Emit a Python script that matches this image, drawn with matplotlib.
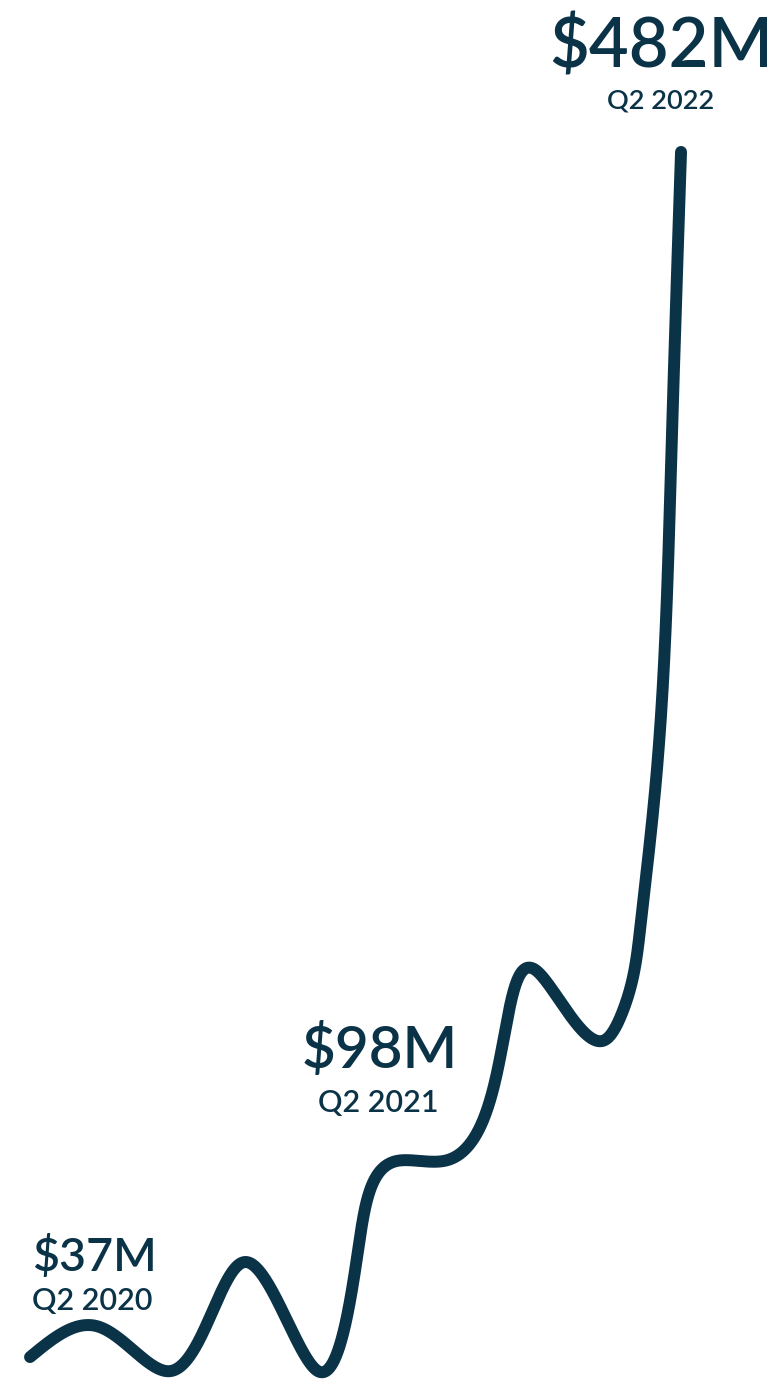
import numpy as np
import matplotlib
matplotlib.use("Agg")
import matplotlib.pyplot as plt

# quarter index (0 = Q2 2020 ... 8 = Q2 2022) and value in $M
quarter = [0.0, 0.823, 1.720, 2.642, 3.539, 4.031, 4.522, 5.100, 5.530, 6.230,
           7.066, 7.275, 7.496, 7.693, 7.877, 8.0]
value_m = [37.0, 48.4, 31.8, 72.1, 31.8, 76.3, 109.5, 109.5, 121.9, 179.5,
           154.1, 164.0, 194.7, 250.1, 366.0, 482.0]

labels = ["$37M", "$98M", "$482M"]
periods = ["Q2 2020", "Q2 2021", "Q2 2022"]

NAVY = "#0b3347"


def natural_spline(t, y, ts):
    n = len(t)
    h = np.diff(t)
    A = np.zeros((n, n))
    r = np.zeros(n)
    A[0, 0] = A[-1, -1] = 1.0
    for i in range(1, n - 1):
        A[i, i - 1] = h[i - 1]
        A[i, i] = 2 * (h[i - 1] + h[i])
        A[i, i + 1] = h[i]
        r[i] = 6 * ((y[i + 1] - y[i]) / h[i] - (y[i] - y[i - 1]) / h[i - 1])
    M = np.linalg.solve(A, r)
    idx = np.clip(np.searchsorted(t, ts) - 1, 0, n - 2)
    hh = h[idx]
    a = (t[idx + 1] - ts) / hh
    b = (ts - t[idx]) / hh
    return (a * y[idx] + b * y[idx + 1]
            + ((a**3 - a) * M[idx] + (b**3 - b) * M[idx + 1]) * hh**2 / 6)


def main():
    fig = plt.figure(figsize=(7.79, 13.79), dpi=100)
    ax = fig.add_axes([0, 0, 1, 1])
    ax.set_xlim(-0.369, 9.204)
    ax.set_ylim(28.9, 538.1)
    ax.axis("off")

    # smooth the line in screen space so the steep part stays round
    pts = ax.transData.transform(np.column_stack([quarter, value_m]))
    seg = np.hypot(*np.diff(pts, axis=0).T)
    t = np.concatenate([[0], np.cumsum(seg)])
    ts = np.linspace(0, t[-1], 4000)
    curve = np.column_stack([natural_spline(t, pts[:, 0], ts),
                             natural_spline(t, pts[:, 1], ts)])
    cx, cy = ax.transData.inverted().transform(curve).T
    ax.plot(cx, cy, color=NAVY, linewidth=8.6,
            solid_capstyle="round", solid_joinstyle="round")

    font = "Lato"
    w = "semibold"
    # $37M / Q2 2020 (left aligned)
    ax.text(0.025, 68.8, labels[0], fontsize=33.5, color=NAVY, family=font,
            weight=w, ha="left", va="baseline")
    ax.text(0.025, 54.4, periods[0], fontsize=22, color=NAVY, family=font,
            weight=w, ha="left", va="baseline")
    # $98M / Q2 2021
    ax.text(4.30, 143.7, labels[1], fontsize=42, color=NAVY, family=font,
            weight=w, ha="center", va="baseline")
    ax.text(4.28, 127.5, periods[1], fontsize=22, color=NAVY, family=font,
            weight=w, ha="center", va="baseline")
    # $482M / Q2 2022
    ax.text(7.754, 513.0, labels[2], fontsize=49.5, color=NAVY, family=font,
            weight=w, ha="center", va="baseline")
    ax.text(7.754, 498.2, periods[2], fontsize=19.5, color=NAVY, family=font,
            weight=w, ha="center", va="baseline")

    fig.savefig("out.png", dpi=100)


if __name__ == "__main__":
    main()
